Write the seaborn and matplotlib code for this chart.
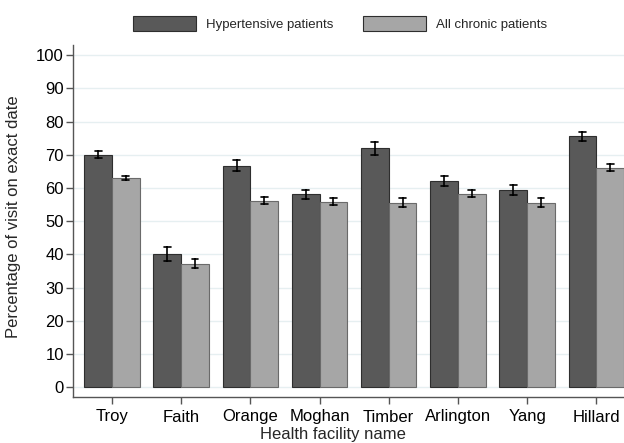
import pandas as pd
import seaborn as sns
import matplotlib.pyplot as plt

facilities = ['Troy', 'Faith', 'Orange', 'Moghan', 'Timber', 'Arlington', 'Yang', 'Hillard']
series = ['Hypertensive patients', 'All chronic patients']
hyper = [70.0, 40.1, 66.7, 58.1, 72.0, 62.1, 59.3, 75.6]
hyper_err = [1.1, 2.25, 1.7, 1.4, 2.0, 1.45, 1.5, 1.3]
chronic = [63.0, 37.2, 56.2, 55.9, 55.6, 58.3, 55.6, 66.1]
chronic_err = [0.65, 1.35, 1.1, 1.0, 1.45, 1.1, 1.25, 1.1]

# long form: lower, mid, upper for each bar -> mean = value, min/max = error bar
rows = []
for name, vals, errs in [(series[0], hyper, hyper_err), (series[1], chronic, chronic_err)]:
    for f, v, e in zip(facilities, vals, errs):
        for x in (v - e, v, v + e):
            rows.append({'facility': f, 'group': name, 'pct': x})
df = pd.DataFrame(rows)

sns.set_style('white')
plt.rcParams['font.family'] = ['Liberation Sans', 'DejaVu Sans']

fig = plt.figure(figsize=(6.24, 4.43), dpi=100)
ax = fig.add_axes([73 / 624, 46 / 443, 1 - 73 / 624, 352 / 443])

sns.barplot(data=df, x='facility', y='pct', hue='group', order=facilities, hue_order=series,
            palette=['#595959', '#a6a6a6'], estimator='mean',
            errorbar=lambda x: (x.min(), x.max()), capsize=0.2,
            err_kws={'color': 'black', 'linewidth': 1.2},
            edgecolor='#2e2e2e', linewidth=0.8, ax=ax)

for p in ax.patches[len(facilities):2 * len(facilities)]:
    p.set_edgecolor('#6a6a6a')

ax.set_xlim(-0.563, 7.40)
ax.set_ylim(-3, 103.1)
ax.set_yticks(range(0, 101, 10))
ax.grid(axis='y', color='#e6eff1', linewidth=1)
ax.set_axisbelow(True)
sns.despine(ax=ax)
for s in ['left', 'bottom']:
    ax.spines[s].set_color('#555555')
    ax.spines[s].set_linewidth(1)
ax.tick_params(axis='both', which='both', direction='out', length=5, width=1, color='#555555',
               labelsize=12, left=True, bottom=True)
ax.tick_params(axis='y', pad=1.5)
ax.tick_params(axis='x', pad=4)
for lab in ax.get_xticklabels() + ax.get_yticklabels():
    lab.set_color('black')

ax.set_xlabel('Health facility name', fontsize=12)
ax.set_ylabel('Percentage of visit on exact date', fontsize=12)
ax.xaxis.set_label_coords(0.472, -0.085)
ax.yaxis.set_label_coords(-0.095, 0.511)

ax.legend_.remove()
h, l = ax.get_legend_handles_labels()
leg = fig.legend(h[:2], l[:2], loc='center', bbox_to_anchor=(0.545, 0.946), ncol=2, frameon=False,
                 fontsize=9.5, handlelength=4.8, handleheight=1.36, handletextpad=0.76,
                 columnspacing=2.2)

fig.savefig('out.png', dpi=100)
